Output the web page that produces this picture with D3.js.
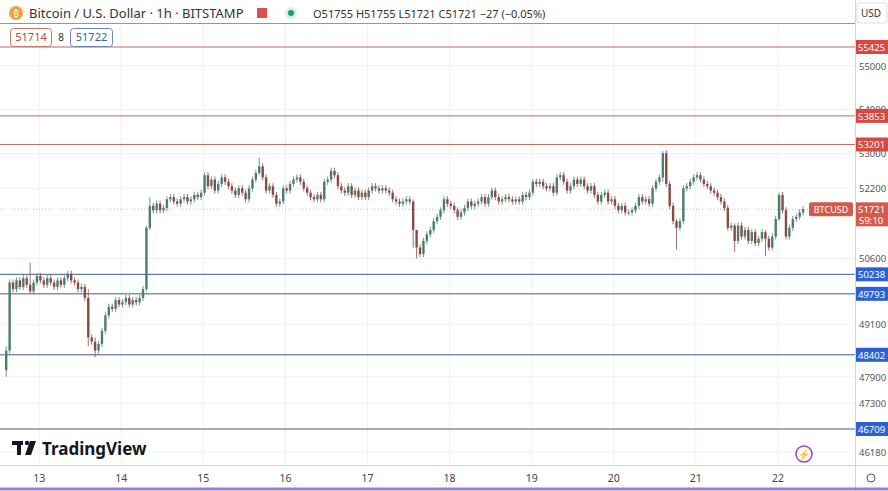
<!DOCTYPE html>
<html><head><meta charset="utf-8">
<script src="https://cdn.jsdelivr.net/npm/d3@7"></script>
<style>body{margin:0;background:#fff;font-family:"Noto Sans",Arial,sans-serif}</style>
</head><body><svg id="c" width="888" height="491"></svg>
<script>
const closes = [
48500,50050,49900,50100,49950,50150,50000,49850,50050,50200,
50100,50000,50150,50050,49950,50100,50000,50150,50250,50100,
50050,49900,49950,49700,48800,48700,48500,48650,48950,49300,
49500,49450,49650,49550,49600,49700,49550,49650,49600,49700,
49900,51300,51800,51700,51850,51700,51750,51950,52000,51900,
51850,51950,52000,51900,51950,52050,52000,52100,52500,52250,
52400,52150,52300,52450,52350,52250,52150,52050,52200,52100,
51950,52200,52400,52550,52700,52450,52150,52250,52050,51850,
51900,52200,52150,52300,52400,52450,52350,52200,52100,52000,
51950,52050,51950,52350,52400,52600,52500,52250,52150,52100,
52250,52050,52150,52000,52100,52000,52150,52250,52200,52150,
52200,52150,52100,51950,51900,51850,51900,51950,51900,51250,
50850,50700,51000,51150,51250,51450,51550,51700,51950,51850,
51800,51700,51550,51650,51750,51900,51800,51850,51900,52000,
51850,52000,52150,52000,51900,51950,52000,51950,51900,51950,
51900,52050,52000,52100,52350,52300,52350,52250,52200,52250,
52100,52450,52500,52350,52150,52250,52400,52300,52400,52250,
52150,52250,52050,51900,52050,52100,51900,51950,51800,51700,
51800,51650,51650,51700,51800,52000,51900,51950,51850,52200,
52350,52450,53000,52300,51800,51450,51300,51450,52200,52250,
52350,52450,52500,52400,52300,52250,52150,52100,52000,51900,
51750,51300,51350,51000,51350,51100,51250,51000,51200,50950,
51050,51200,51050,50850,51100,51500,52050,51700,51100,51300,
51500,51550,51650,51721];
const firstOpen = 48050;
// [candle index, high, low] for notable wicks
const spikes = [[0,48600,47900],[7,50500,49800],[24,49900,48600],[26,48800,48350],[41,51350,49850],
[42,52000,51250],[74,52900,52500],[119,51950,50850],[120,51250,50600],[192,53050,52350],
[196,51500,50800],[213,51400,50750],[222,51250,50650],[226,52100,51450]];
const dayLabels = ["13","14","15","16","17","18","19","20","21","22"];
const dayStartIdx = [10,34,58,82,106,130,154,178,202,226];
const yTicks = [55000,54000,53000,52200,50600,49100,47900,47300,46180];
const redLevels = [55425,53853,53201];
const blueLevels = [50238,49793,48402,46709];
const lastPrice = 51721;

const svg = d3.select("#c");
const W=888,H=491,R=855,B=465;
const x = d3.scaleLinear().domain([0,1]).range([5,8.42]);
const y = d3.scaleLinear().domain([55425,46709]).range([47,429]);
const g = svg.append("g");
yTicks.forEach(t=>g.append("line").attr("x1",0).attr("x2",R).attr("y1",y(t)).attr("y2",y(t)).attr("stroke","#eef0f4"));
dayStartIdx.forEach(i=>g.append("line").attr("x1",x(i)).attr("x2",x(i)).attr("y1",23).attr("y2",B).attr("stroke","#eef0f4"));
const lv=(p,col)=>g.append("line").attr("x1",0).attr("x2",R).attr("y1",y(p)).attr("y2",y(p)).attr("stroke",col).attr("stroke-width",1);
redLevels.forEach(p=>lv(p,"#c06a60"));
blueLevels.forEach(p=>lv(p,"#3c5f8c"));
g.append("line").attr("x1",0).attr("x2",R).attr("y1",23.5).attr("y2",23.5).attr("stroke","#c8837b");
g.append("line").attr("x1",0).attr("x2",R).attr("y1",y(lastPrice)).attr("y2",y(lastPrice)).attr("stroke","#b9bcc4").attr("stroke-dasharray","1,2");
const sp = new Map(spikes.map(s=>[s[0],s]));
const data = closes.map((c,i)=>{const o=i?closes[i-1]:firstOpen;const s=sp.get(i);
 return {i,o,c,h:s?s[1]:Math.max(o,c)+70,l:s?s[2]:Math.min(o,c)-70};});
const cg=g.append("g");
data.forEach(d=>{const col=d.c>=d.o?"#4c7d6f":"#8a4b44";const cx=x(d.i)+1.2;
 cg.append("line").attr("x1",cx).attr("x2",cx).attr("y1",y(d.h)).attr("y2",y(d.l)).attr("stroke",col).attr("stroke-width",0.8);
 const t=Math.min(y(d.o),y(d.c)),hh=Math.max(1,Math.abs(y(d.o)-y(d.c)));
 cg.append("rect").attr("x",cx-1.2).attr("y",t).attr("width",2.4).attr("height",hh).attr("fill",col);});
svg.append("line").attr("x1",R+0.5).attr("x2",R+0.5).attr("y1",0).attr("y2",H).attr("stroke","#d1d4dc");
svg.append("line").attr("x1",0).attr("x2",W).attr("y1",B+0.5).attr("y2",B+0.5).attr("stroke","#d1d4dc");
svg.append("line").attr("x1",0).attr("x2",W).attr("y1",489).attr("y2",489).attr("stroke","#9c7fd0").attr("stroke-width",3);
const ya=svg.append("g").attr("font-size",9.5).attr("fill","#555");
yTicks.forEach(t=>ya.append("text").attr("x",859).attr("y",y(t)+4).text(t));
const tag=(p,col,txt2)=>{const yy=y(p);svg.append("rect").attr("x",R+1).attr("y",yy-7).attr("width",33).attr("height",txt2?24:14).attr("fill",col);
 svg.append("text").attr("x",858).attr("y",yy+4).attr("font-size",9.5).attr("fill","#fff").text(p);
 if(txt2)svg.append("text").attr("x",859).attr("y",yy+15).attr("font-size",9.5).attr("fill","#fff").text(txt2);};
redLevels.forEach(p=>tag(p,"#d9473f"));
blueLevels.forEach(p=>tag(p,"#2a62d6"));
tag(lastPrice,"#d35a4c","59:10");
svg.append("rect").attr("x",809).attr("y",y(lastPrice)-7).attr("width",44).attr("height",14).attr("rx",2).attr("fill","#d35a4c");
svg.append("text").attr("x",831).attr("y",y(lastPrice)+4).attr("text-anchor","middle").attr("font-size",9).attr("fill","#fff").text("BTCUSD");
dayStartIdx.forEach((i,k)=>svg.append("text").attr("x",x(i)).attr("y",482).attr("text-anchor","middle").attr("font-size",10.5).attr("fill","#444").text(dayLabels[k]));
svg.append("circle").attr("cx",16).attr("cy",13).attr("r",7).attr("fill","#f0a23a");
svg.append("text").attr("x",16).attr("y",16.5).attr("text-anchor","middle").attr("font-size",9).attr("fill","#fff").text("₿");
svg.append("text").attr("x",29).attr("y",18).attr("font-size",13).attr("fill","#333").text("Bitcoin / U.S. Dollar · 1h · BITSTAMP");
svg.append("rect").attr("x",257).attr("y",8).attr("width",10).attr("height",10).attr("fill","#e0504a");
svg.append("circle").attr("cx",291).attr("cy",13).attr("r",6).attr("fill","#d8f0ea");
svg.append("circle").attr("cx",291).attr("cy",13).attr("r",3).attr("fill","#1a9a80");
svg.append("text").attr("x",313).attr("y",18).attr("font-size",11).attr("fill","#333").text("O51755 H51755 L51721 C51721 −27 (−0.05%)");
svg.append("rect").attr("x",10.5).attr("y",28.5).attr("width",41).attr("height",18).attr("rx",3).attr("fill","#fff").attr("stroke","#c9746c");
svg.append("text").attr("x",31).attr("y",41).attr("text-anchor","middle").attr("font-size",11).attr("fill","#b54a40").text("51714");
svg.append("text").attr("x",61).attr("y",41).attr("text-anchor","middle").attr("font-size",10).attr("fill","#333").text("8");
svg.append("rect").attr("x",70.5).attr("y",28.5).attr("width",42).attr("height",18).attr("rx",3).attr("fill","#fff").attr("stroke","#6a86b8");
svg.append("text").attr("x",91.5).attr("y",41).attr("text-anchor","middle").attr("font-size",11).attr("fill","#3a5fa0").text("51722");
svg.append("rect").attr("x",857).attr("y",3).attr("width",30).attr("height",20).attr("rx",3).attr("fill","#fff").attr("stroke","#ddd");
svg.append("text").attr("x",861).attr("y",17).attr("font-size",10).attr("fill","#333").text("USD");
// TradingView logo mark
const lg=svg.append("g").attr("fill","#131722");
lg.append("rect").attr("x",12).attr("y",441).attr("width",11).attr("height",4);
lg.append("rect").attr("x",17).attr("y",441).attr("width",4).attr("height",14);
lg.append("circle").attr("cx",27).attr("cy",443).attr("r",2.2);
lg.append("path").attr("d","M30 441 L36 441 L31 455 L25 455 Z");
svg.append("text").attr("x",42).attr("y",455).attr("font-size",17).attr("font-weight","bold").attr("fill","#131722").text("TradingView");
svg.append("circle").attr("cx",804).attr("cy",454).attr("r",8).attr("fill","none").attr("stroke","#9a46b8").attr("stroke-width",1.5);
svg.append("text").attr("x",804).attr("y",458).attr("text-anchor","middle").attr("font-size",10).attr("fill","#9a46b8").text("⚡");
svg.append("circle").attr("cx",871).attr("cy",478).attr("r",4).attr("fill","none").attr("stroke","#555");
</script></body></html>
